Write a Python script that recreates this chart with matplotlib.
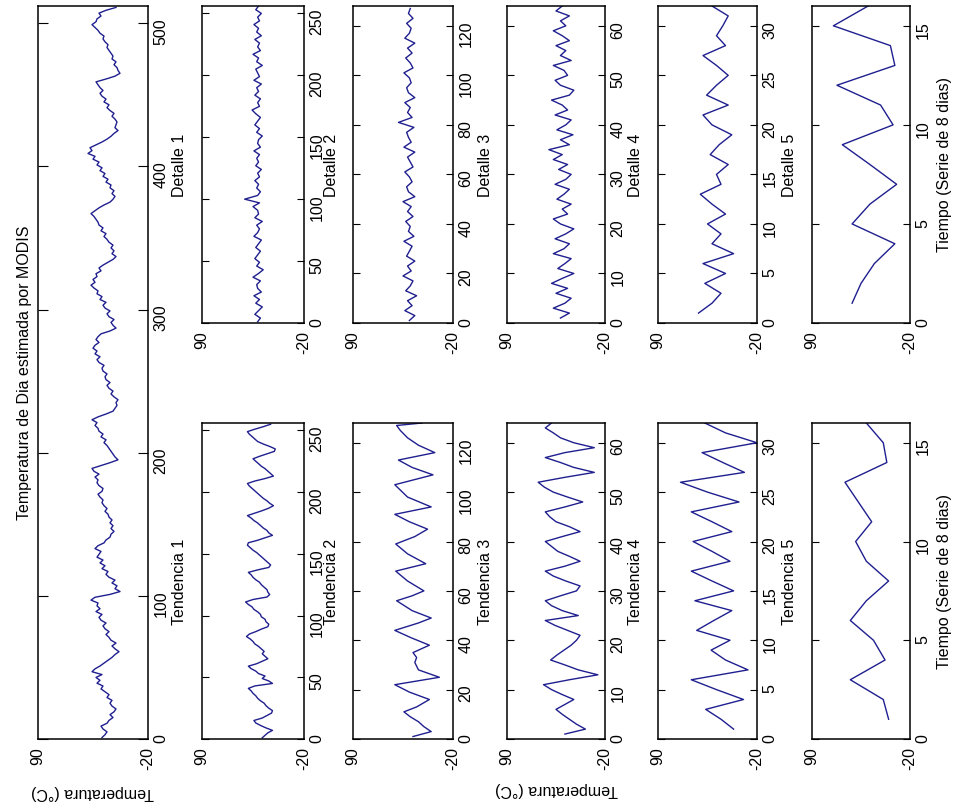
import matplotlib
matplotlib.use('Agg')
import matplotlib.pyplot as plt
import numpy as np

plt.rcParams['font.family'] = ['Liberation Sans', 'DejaVu Sans']
plt.rcParams['font.size'] = 11.5

# serie original (Temperatura de Dia, MODIS), leida cada 2 puntos (t = 1, 3, ..., 511)
main_temp = [26, 23, 21, 25, 27, 21, 19, 15, 18, 14, 12, 16,
             18, 16, 21, 19, 23, 27, 25, 31, 28, 32, 26, 36,
             33, 28, 24, 20, 16, 13, 9, 13, 16, 12, 17, 19,
             22, 19, 23, 25, 22, 27, 29, 26, 32, 28, 31, 30,
             37, 33, 18, 8, 13, 11, 16, 13, 19, 22, 20, 26,
             23, 28, 25, 31, 29, 27, 33, 30, 24, 22, 18, 17,
             14, 17, 15, 18, 16, 19, 20, 23, 21, 24, 26, 25,
             28, 30, 26, 25, 29, 31, 30, 33, 29, 34, 36, 27,
             18, 10, 13, 15, 17, 19, 21, 24, 22, 27, 25, 29,
             30, 33, 31, 36, 30, 22, 15, 13, 11, 12, 10, 14,
             17, 15, 19, 21, 18, 22, 23, 21, 25, 26, 24, 29,
             31, 28, 33, 31, 35, 33, 29, 32, 30, 27, 18, 12,
             15, 17, 14, 19, 21, 18, 23, 25, 22, 28, 26, 31,
             30, 34, 37, 33, 35, 31, 32, 27, 29, 25, 20, 15,
             12, 16, 14, 17, 15, 19, 21, 24, 22, 27, 25, 29,
             30, 32, 34, 37, 33, 29, 24, 18, 15, 13, 16, 14,
             18, 17, 22, 20, 25, 23, 28, 26, 31, 29, 35, 33,
             40, 36, 38, 32, 26, 21, 17, 14, 10, 13, 12, 11,
             13, 16, 14, 18, 21, 19, 24, 22, 26, 28, 25, 28,
             30, 32, 22, 13, 8, 10, 11, 14, 12, 16, 15, 17,
             19, 21, 20, 23, 25, 24, 28, 30, 33, 36, 32, 31,
             27, 29, 22, 12]

# tendencias (aproximaciones)
tend1_temp = [25, 22, 19, 14, 21, 27, 32, 34, 25, 20, 15, 14,
              18, 21, 23, 27, 30, 32, 35, 37, 40, 33, 14, 18,
              25, 22, 29, 32, 37, 40, 31, 25, 19, 22, 25, 23,
              26, 29, 33, 35, 38, 42, 39, 32, 26, 19, 18, 21,
              22, 26, 27, 30, 34, 36, 40, 43, 35, 20, 17, 19,
              20, 23, 26, 28, 32, 35, 37, 40, 30, 18, 16, 19,
              22, 25, 28, 31, 35, 38, 41, 40, 30, 22, 14, 18,
              20, 24, 27, 30, 34, 37, 41, 33, 25, 18, 13, 17,
              20, 24, 27, 30, 33, 36, 39, 41, 33, 22, 13, 16,
              19, 22, 26, 29, 32, 35, 28, 20, 12, 11, 17, 24,
              30, 33, 36, 39, 41, 33, 24, 16]

tend2_t = [1, 3, 5, 7, 9, 11, 13, 16, 19, 22,
           25, 28, 31, 33, 35, 38, 41, 44, 47, 49,
           52, 56, 58, 60, 64, 68, 71, 75, 79, 82,
           85, 88, 91, 94, 98, 103, 107, 110, 113, 116,
           119, 122, 125, 127, 128]
tend2_temp = [24, 4, 12, 18, 27, 34, 20, 6, 28, 44,
              -5, 18, 22, 20, 24, 6, 26, 44, 18, 4,
              25, 42, 25, 12, 30, 43, 10, 30, 43, 22,
              8, 28, 44, 4, 30, 44, 2, 25, 40, 0,
              18, 30, 38, 42, 14]

tend3_temp = [25, 2, 12, 20, 28, 35, 25, 15, 28, 40,
              49, 20, -12, 10, 25, 41, 34, 26, 18, 12,
              8, 22, 36, 47, 10, 28, 40, 47, 30, 12,
              8, 24, 38, 47, 25, 8, 20, 33, 40, 47,
              28, 8, 20, 35, 42, 47, 25, 5, 22, 38,
              48, 55, 25, -8, 15, 30, 47, 25, -8, 15,
              30, 38, 47, 40]

tend4_temp = [6, 20, 37, -5, 25, 53, -10, 15, 31, 10,
              47, 28, 8, 49, 6, 30, 53, 10, 30, 51,
              8, 30, 53, 0, 35, 65, -6, 18, 41, -20,
              15, 38]

tend5_temp = [4, 10, 47, 8, 21, 47, 29, 4, 29, 41,
              23, 38, 53, 6, 10, 29]

# detalles
det1_temp = [30, 27, 33, 29, 25, 32, 28, 34, 26, 30,
             31, 27, 35, 29, 24, 31, 28, 33, 30, 27,
             32, 29, 26, 34, 30, 28, 31, 25, 33, 29,
             30, 35, 28, 44, 30, 27, 31, 29, 33, 28,
             30, 26, 32, 29, 31, 28, 34, 27, 30, 29,
             25, 31, 28, 33, 30, 27, 32, 36, 28, 30,
             27, 33, 29, 31, 26, 34, 28, 30, 32, 25,
             31, 29, 35, 27, 30, 28, 33, 26, 31, 29,
             34, 28, 30, 26, 32, 29]
det2_temp = [28, 22, 33, 25, 30, 20, 32, 27, 24, 35,
             26, 30, 22, 31, 28, 25, 34, 23, 29, 27,
             32, 24, 30, 26, 35, 22, 29, 31, 25, 28,
             33, 24, 27, 30, 22, 34, 26, 29, 31, 23,
             40, 25, 30, 27, 33, 22, 29, 31, 26, 28,
             34, 24, 27, 32, 25, 30, 22, 33, 28, 26,
             31, 24, 29, 27]
det3_temp = [30, 20, 38, 25, 18, 35, 22, 40, 28, 15,
             33, 25, 18, 38, 26, 20, 36, 24, 15, 30,
             38, 22, 28, 18, 34, 26, 20, 36, 24, 18,
             32, 22, 38, 28, 43, 20, 30, 16, 34, 24,
             18, 36, 22, 28, 40, 20, 15, 30, 36, 22,
             26, 38, 18, 30, 24, 35, 20, 28, 38, 24,
             30, 20, 35, 28]
det4_temp = [45, 30, 20, 38, 15, 40, 6, 30, 20, 35,
             15, 30, 43, 20, 25, 12, 32, 22, 8, 30,
             40, 12, 36, 25, 12, 25, 40, 15, 25, 18,
             12, 30]
det5_temp = [45, 35, 20, -3, 45, 25, -5, 25, 56, -1,
             13, 62, -3, 2, 66, 27]

# (titulo tendencia, titulo detalle, tiempos tendencia, tendencia, paso tendencia,
#  detalle, paso detalle, longitud, ticks)
series = [
    ('Tendencia 1', 'Detalle 1', None, tend1_temp, 2, det1_temp, 3, 256, [0, 50, 100, 150, 200, 250]),
    ('Tendencia 2', 'Detalle 2', tend2_t, tend2_temp, 1, det2_temp, 2, 128, [0, 20, 40, 60, 80, 100, 120]),
    ('Tendencia 3', 'Detalle 3', None, tend3_temp, 1, det3_temp, 1, 64, [0, 10, 20, 30, 40, 50, 60]),
    ('Tendencia 4', 'Detalle 4', None, tend4_temp, 1, det4_temp, 1, 32, [0, 5, 10, 15, 20, 25, 30]),
    ('Tendencia 5', 'Detalle 5', None, tend5_temp, 1, det5_temp, 1, 16, [0, 5, 10, 15]),
]

W, H = 964, 812
fig = plt.figure(figsize=(W / 100, H / 100), dpi=100)
line_color = '#1f1f8f'


def px_axes(x0, x1, y0, y1):
    return fig.add_axes([x0 / W, 1 - y1 / H, (x1 - x0) / W, (y1 - y0) / H])


def style(ax, n, ticks, ticklen):
    ax.set_xlim(90, -20)
    ax.set_ylim(0, n)
    ax.set_xticks([90, -20])
    ax.set_xticklabels(['90', '-20'])
    ax.set_yticks(ticks)
    ax.tick_params(axis='y', direction='in', length=ticklen, width=0.8,
                   left=True, right=True, labelleft=False, labelright=True,
                   labelrotation=90, pad=4)
    ax.tick_params(axis='x', direction='in', length=0, labelrotation=90, pad=5)
    for s in ax.spines.values():
        s.set_linewidth(1.1)


# panel principal
ax = px_axes(38, 148, 7, 740)
main_t = np.arange(len(main_temp)) * 2 + 1
ax.plot(main_temp, main_t, color=line_color, lw=1.0)
style(ax, 512, [0, 100, 200, 300, 400, 500], 7)
fig.text(25 / W, 1 - 373 / H, 'Temperatura de Dia estimada por MODIS',
         rotation=90, ha='center', va='center')
fig.text(92 / W, 1 - 793 / H, 'Temperatura (°C)', rotation=180, ha='center', va='center')

cols = [(202, 304), (353, 453), (507, 605), (658, 757), (812, 910)]
for (x0, x1), (tname, dname, tt, tv, tstep, dv, dstep, n, ticks) in zip(cols, series):
    # tendencia (parte inferior)
    axt = px_axes(x0, x1, 424, 740)
    if tt is None:
        tt = np.arange(len(tv)) * tstep + 1
    axt.plot(tv, tt, color=line_color, lw=1.0)
    style(axt, n, ticks, 5)
    fig.text((x0 - 22) / W, 1 - 582 / H, tname, rotation=90, ha='center', va='center')

    # detalle (parte superior)
    axd = px_axes(x0, x1, 7, 324)
    dt = np.arange(len(dv)) * dstep + 1
    axd.plot(dv, dt, color=line_color, lw=1.0)
    style(axd, n, ticks, 5)
    fig.text((x0 - 22) / W, 1 - 165 / H, dname, rotation=90, ha='center', va='center')

fig.text(556 / W, 1 - 790 / H, 'Temperatura (°C)', rotation=180, ha='center', va='center')
fig.text(945 / W, 1 - 582 / H, 'Tiempo (Serie de 8 dias)', rotation=90, ha='center', va='center')
fig.text(945 / W, 1 - 165 / H, 'Tiempo (Serie de 8 dias)', rotation=90, ha='center', va='center')

fig.savefig('out.png', dpi=100)
